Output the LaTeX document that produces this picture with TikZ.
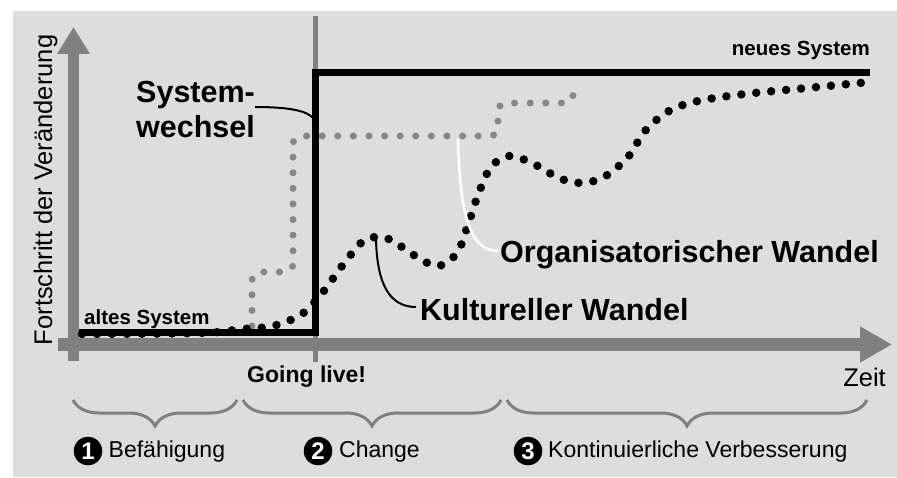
\documentclass[tikz,border=0pt]{standalone}
\usepackage{fontspec}
\setmainfont{Liberation Sans}
\usetikzlibrary{arrows.meta,decorations.pathreplacing}

\definecolor{panel}{HTML}{DDDDDD}
\definecolor{axisgray}{HTML}{808080}
\definecolor{dotgray}{HTML}{878787}

\begin{document}
\begin{tikzpicture}[x=1pt,y=-1pt,
  axisline/.style={draw=axisgray, line width=#1},
  biglabel/.style={font=\fontsize{30.5}{35}\selectfont\bfseries, inner sep=0pt},
  systemlabel/.style={font=\fontsize{20.5}{24}\selectfont\bfseries, inner sep=0pt},
  axislabel/.style={font=\fontsize{25.5}{30}\selectfont, inner sep=0pt},
  phaselabel/.style={font=\fontsize{23}{28}\selectfont, inner sep=0pt},
  phasenum/.style={circle, fill=black, text=white, minimum size=28.5pt, inner sep=0pt,
                   font=\fontsize{24}{28}\selectfont\bfseries},
  systemline/.style={draw=black, line width=7pt, line join=miter},
  orgdots/.style={draw=dotgray, line width=7pt, line cap=round,
                  dash pattern=on 0pt off 15.6pt, rounded corners=8pt},
  culturedots/.style={draw=black, line width=8.5pt, line cap=round,
                      dash pattern=on 0pt off 15pt},
  pointer/.style={draw=black, line width=2pt},
  phasebrace/.style={draw=axisgray, line width=3pt,
                     decorate, decoration={brace, amplitude=26pt, mirror}}
]
\useasboundingbox (0,0) rectangle (897,478);
\fill[panel] (13,11) rectangle (897,477);

% axes
\draw[axisline=12.4pt, -{Triangle[length=32pt,width=34pt]}] (58,344.5) -- (892,344.5);
\draw[axisline=11pt, -{Triangle[length=27pt,width=31pt]}] (73.5,361) -- (73.5,27);
% go-live marker
\draw[axisline=5pt] (315.5,362) -- (315.5,16);

% organisational change (grey dotted steps)
\draw[orgdots] (252,326) -- (252,272) -- (293,272) -- (293,136) -- (498,136)
               -- (498,103) -- (573,103) -- (573,84);

% cultural change (black dotted curve)
\draw[culturedots] plot[smooth, tension=0.55] coordinates {
  (82,334) (200,333) (243,329) (273,326) (302,314) (323,292) (342,266)
  (362,242) (376,237) (391,240) (417,257) (438,266) (457,253) (468,225)
  (478,195) (491,167) (509,156) (532,163) (559,178) (581,183) (604,177)
  (628,157) (645,131) (669,111) (698,101) (745,94) (807,88) (870,82)};

% old system -> new system
\draw[systemline] (79,332.5) -- (315.5,332.5) -- (315.5,73) -- (870,73);

% labels
\node[systemlabel, anchor=base east] (neu) at (870,56) {neues System};
\node[systemlabel, anchor=base west] (alt) at (84,325) {altes System};
\node[biglabel, anchor=north west, align=left] (wechsel) at (136,81) {System-\\wechsel};
\node[biglabel, anchor=base west] (kultur) at (420,320) {Kultureller Wandel};
\node[biglabel, anchor=base west] (orga) at (500,263) {Organisatorischer Wandel};
\node[systemlabel, font=\fontsize{23}{28}\selectfont\bfseries, anchor=base west] (golive) at (247,382) {Going live!};
\node[axislabel, anchor=base east] (zeit) at (886,386) {Zeit};
\node[axislabel, anchor=base, rotate=90] (fortschritt) at (52,190) {Fortschritt der Veränderung};

% pointer lines
\coordinate (wechselend) at (255,107);
\coordinate (wechselhit) at (313,118);
\draw[pointer] (wechselend) .. controls (290,107) and (307,111) .. (wechselhit);
\coordinate (orgastart) at (458,139);
\coordinate (orgaend) at (498,251);
\draw[pointer, draw=white, line width=2.5pt] (orgastart) .. controls (460,215) and (470,251) .. (orgaend);
\coordinate (kulturstart) at (376,239);
\coordinate (kulturend) at (416,307);
\draw[pointer] (kulturstart) .. controls (377,285) and (390,307) .. (kulturend);

% phases
\coordinate (b1l) at (73,400);  \coordinate (b1r) at (237,400);
\coordinate (b2l) at (243,400); \coordinate (b2r) at (501,400);
\coordinate (b3l) at (507,400); \coordinate (b3r) at (867,400);
\draw[phasebrace] (b1l) -- (b1r);
\draw[phasebrace] (b2l) -- (b2r);
\draw[phasebrace] (b3l) -- (b3r);

\node[phasenum] (n1) at (88,451) {1};
\node[phaselabel, anchor=base west] (p1) at (108.5,457) {Befähigung};
\node[phasenum] (n2) at (318,451) {2};
\node[phaselabel, anchor=base west] (p2) at (339,457) {Change};
\node[phasenum] (n3) at (528,451) {3};
\node[phaselabel, anchor=base west] (p3) at (548,457) {Kontinuierliche Verbesserung};
\end{tikzpicture}
\end{document}
